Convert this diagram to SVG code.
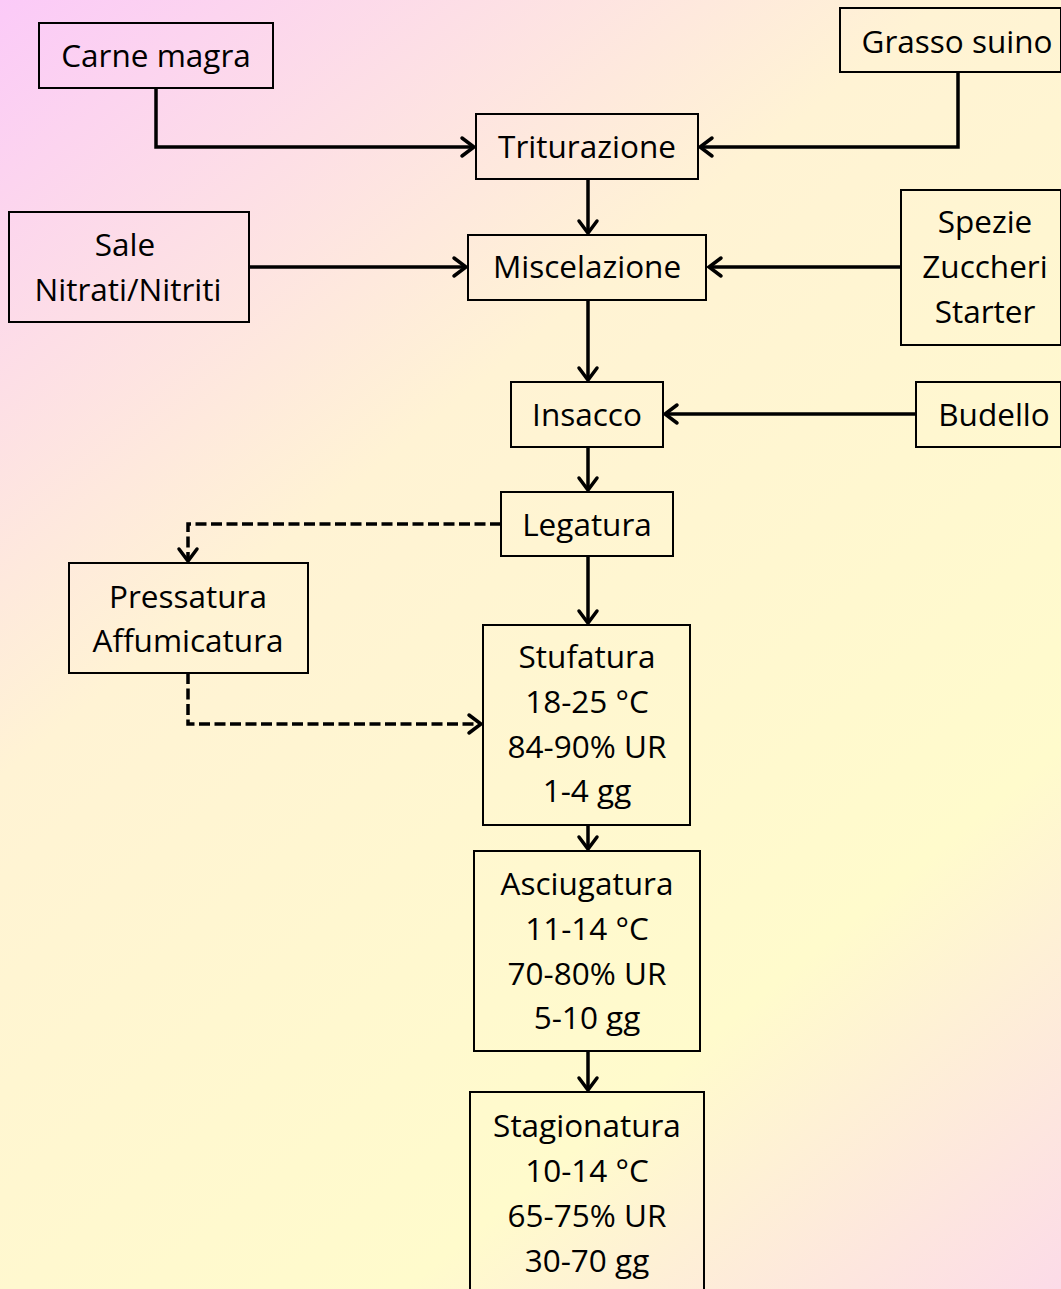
<svg xmlns="http://www.w3.org/2000/svg" width="1061" height="1289" viewBox="0 0 1061 1289">
<defs>
<linearGradient id="bg" x1="0" y1="0" x2="1061" y2="1289" gradientUnits="userSpaceOnUse">
<stop offset="0" stop-color="#fbcaf8"/>
<stop offset="0.36" stop-color="#fff3d4"/>
<stop offset="0.75" stop-color="#fffbcc"/>
<stop offset="1" stop-color="#fcdbe8"/>
</linearGradient>
<marker id="ah" markerWidth="20" markerHeight="24" viewBox="-16 -12 20 24" refX="0" refY="0" orient="auto" markerUnits="userSpaceOnUse">
<path d="M-12,-9 L0,0 L-12,9" fill="none" stroke="#000" stroke-width="3.5" stroke-linejoin="miter" stroke-linecap="round"/>
</marker>
<style>
.box{fill:none;stroke:#000;stroke-width:2}
.t{font-family:"Open Sans","Noto Sans","Liberation Sans",sans-serif;font-size:31.5px;fill:#000;text-anchor:middle}
.c{fill:none;stroke:#000;stroke-width:3.5;marker-end:url(#ah)}
.d{stroke-dasharray:11 4.5}
</style>
</defs>
<rect x="0" y="0" width="1061" height="1289" fill="url(#bg)"/>

<g id="connectors">
<polyline class="c" points="156,88 156,147 474,147"/>
<polyline class="c" points="958,72 958,147 700,147"/>
<line class="c" x1="588" y1="179" x2="588" y2="233"/>
<line class="c" x1="249" y1="267" x2="466" y2="267"/>
<line class="c" x1="900" y1="267" x2="709" y2="267"/>
<line class="c" x1="588" y1="300" x2="588" y2="380"/>
<line class="c" x1="916" y1="414" x2="665" y2="414"/>
<line class="c" x1="588" y1="447" x2="588" y2="490"/>
<line class="c" x1="588" y1="556" x2="588" y2="623"/>
<polyline class="c d" points="501,524 188,524 188,561"/>
<polyline class="c d" points="188,673 188,724 481,724"/>
<line class="c" x1="588" y1="825" x2="588" y2="849"/>
<line class="c" x1="588" y1="1051" x2="588" y2="1090"/>
</g>

<g id="carne-magra"><rect class="box" x="39" y="23" width="234" height="65"/><text class="t" x="156" y="67">Carne magra</text></g>
<g id="grasso-suino"><rect class="box" x="840" y="8" width="221" height="64"/><text class="t" x="957" y="53">Grasso suino</text></g>
<g id="triturazione"><rect class="box" x="476" y="114" width="222" height="65"/><text class="t" x="587" y="158">Triturazione</text></g>
<g id="sale"><rect class="box" x="9" y="212" width="240" height="110"/><text class="t" x="125" y="256">Sale</text><text class="t" x="128" y="301">Nitrati/Nitriti</text></g>
<g id="miscelazione"><rect class="box" x="468" y="235" width="238" height="65"/><text class="t" x="587" y="278">Miscelazione</text></g>
<g id="spezie"><rect class="box" x="901" y="190" width="160" height="155"/><text class="t" x="985" y="233">Spezie</text><text class="t" x="985" y="278">Zuccheri</text><text class="t" x="985" y="323">Starter</text></g>
<g id="insacco"><rect class="box" x="511" y="382" width="152" height="65"/><text class="t" x="587" y="426">Insacco</text></g>
<g id="budello"><rect class="box" x="916" y="382" width="145" height="65"/><text class="t" x="994" y="426">Budello</text></g>
<g id="legatura"><rect class="box" x="501" y="492" width="172" height="64"/><text class="t" x="587" y="536">Legatura</text></g>
<g id="pressatura"><rect class="box" x="69" y="563" width="239" height="110"/><text class="t" x="188" y="608">Pressatura</text><text class="t" x="188" y="652">Affumicatura</text></g>
<g id="stufatura"><rect class="box" x="483" y="625" width="207" height="200"/><text class="t" x="587" y="668">Stufatura</text><text class="t" x="587" y="713">18-25 °C</text><text class="t" x="587" y="758">84-90% UR</text><text class="t" x="587" y="802">1-4 gg</text></g>
<g id="asciugatura"><rect class="box" x="474" y="851" width="226" height="200"/><text class="t" x="587" y="895">Asciugatura</text><text class="t" x="587" y="940">11-14 °C</text><text class="t" x="587" y="985">70-80% UR</text><text class="t" x="587" y="1029">5-10 gg</text></g>
<g id="stagionatura"><rect class="box" x="470" y="1092" width="234" height="210"/><text class="t" x="587" y="1137">Stagionatura</text><text class="t" x="587" y="1182">10-14 °C</text><text class="t" x="587" y="1227">65-75% UR</text><text class="t" x="587" y="1272">30-70 gg</text></g>
</svg>
